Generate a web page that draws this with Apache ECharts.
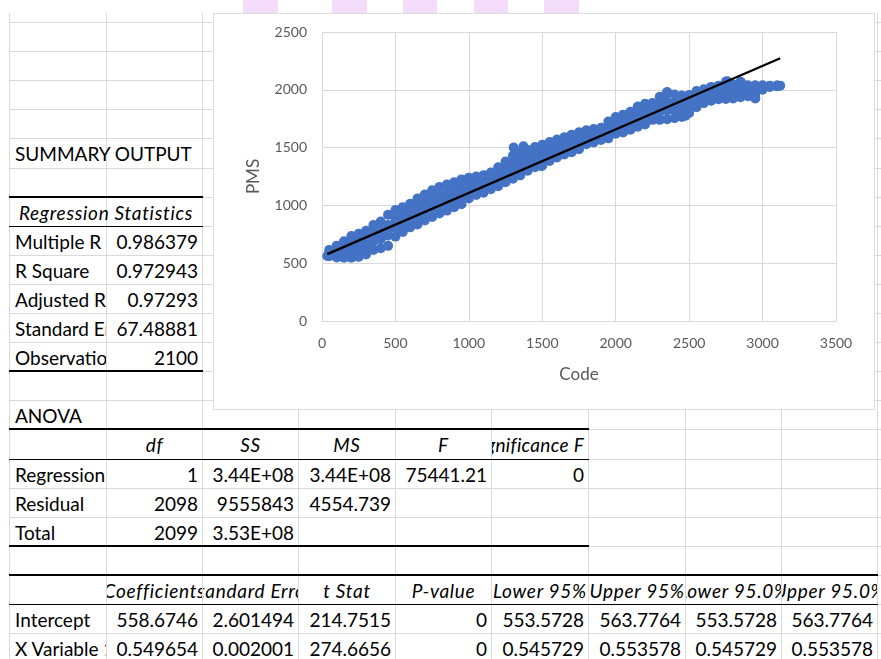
<!DOCTYPE html>
<html><head><meta charset="utf-8">
<script src="https://cdn.jsdelivr.net/npm/echarts/dist/echarts.min.js"></script>
<style>
html,body{margin:0;padding:0;}
body{width:881px;height:659px;overflow:hidden;background:#fff;position:relative;font-family:Lato,'Liberation Sans',sans-serif;}
.gl{position:absolute;background:#dadada;}
.bd{position:absolute;background:#000;}
.cell{position:absolute;overflow:hidden;white-space:nowrap;font-size:19px;color:#000;display:flex;align-items:center;box-sizing:border-box;}
.l{justify-content:flex-start;padding-left:5px;}
.r{justify-content:flex-end;padding-right:4px;}
.c{justify-content:center;}
.i{font-style:italic;letter-spacing:0.7px;}
.tight{letter-spacing:0.3px;}
.vis{overflow:visible;}
.pink{position:absolute;top:0;height:13px;background:#f4dcfb;}
#chart{position:absolute;left:213px;top:13px;width:662px;height:397px;background:#fff;border:1px solid #dedede;box-sizing:border-box;}
</style></head>
<body>
<div id="sheet"></div>
<div id="chart"></div>
<script>
// ---------------- spreadsheet content ----------------
const regLabels = ['Multiple R','R Square','Adjusted R Square','Standard Error','Observations'];
const regValues = ['0.986379','0.972943','0.97293','67.48881','2100'];
const anovaHeaders = ['df','SS','MS','F','Significance F'];
const anovaRowLabels = ['Regression','Residual','Total'];
const anovaDf = ['1','2098','2099'];
const anovaSS = ['3.44E+08','9555843','3.53E+08'];
const anovaMS = ['3.44E+08','4554.739',''];
const anovaF = ['75441.21','',''];
const anovaSigF = ['0','',''];
const coefHeaders = ['Coefficients','Standard Error','t Stat','P-value','Lower 95%','Upper 95%','Lower 95.0%','Upper 95.0%'];
const coefNames = ['Intercept','X Variable 1'];
const coefIntercept = ['558.6746','2.601494','214.7515','0','553.5728','563.7764','553.5728','563.7764'];
const coefSlope = ['0.549654','0.002001','274.6656','0','0.545729','0.553578','0.545729','0.553578'];

// ---------------- chart data (Code vs PMS) ----------------
const codes = [50,100,150,200,250,300,350,400,450,500,550,600,650,700,750,800,850,900,950,1000,
  1050,1100,1150,1200,1250,1300,1350,1400,1450,1500,1550,1600,1650,1700,1750,1800,1850,1900,1950,2000,
  2050,2100,2150,2200,2250,2300,2350,2400,2450,2500,2550,2600,2650,2700,2750,2800,2850,2900,2950,3000,3050,3100];
const pmsTop = [615,650,690,735,755,780,830,860,920,960,985,1015,1060,1095,1130,1160,1180,1200,1225,1240,
  1250,1260,1285,1330,1380,1430,1460,1480,1505,1525,1548,1570,1590,1612,1632,1650,1660,1672,1725,1765,
  1785,1810,1855,1880,1885,1940,1975,1960,1950,1955,1990,2005,2025,2035,2070,2045,2068,2040,2040,2040,2035,2038];
const pmsUpperMid = [595,617,643,672,688,715,758,783,830,883,913,947,985,1020,1053,1083,1105,1128,1153,1180,
  1197,1210,1237,1278,1320,1365,1395,1418,1445,1465,1493,1518,1540,1561,1583,1610,1622,1637,1677,1717,
  1733,1758,1797,1820,1837,1873,1898,1892,1888,1903,1943,1965,1985,1995,2020,2005,2024,2008,2003,2027,2032,2035];
const pmsCenter = [587,600,619,641,655,680,722,745,785,845,877,912,948,983,1015,1045,1068,1092,1118,1150,
  1170,1185,1212,1250,1290,1335,1365,1390,1415,1435,1466,1492,1515,1536,1558,1590,1603,1619,1652,1692,
  1708,1732,1768,1790,1812,1840,1860,1857,1857,1877,1920,1945,1965,1976,1995,1985,2002,1992,1985,2020,2030,2034];
const pmsLowerMid = [578,583,595,610,622,645,687,707,740,807,842,878,910,945,977,1007,1030,1057,1082,1120,
  1143,1160,1188,1223,1262,1300,1335,1362,1388,1405,1440,1467,1490,1511,1534,1570,1585,1601,1628,1668,
  1682,1707,1738,1760,1788,1807,1822,1823,1827,1852,1897,1925,1945,1957,1970,1965,1980,1977,1967,2013,2028,2033];
const pmsBottom = [560,550,548,548,555,575,615,630,650,730,770,810,835,870,900,930,955,985,1010,1060,
  1090,1110,1140,1165,1200,1230,1260,1300,1330,1345,1385,1415,1440,1460,1485,1530,1545,1565,1580,1620,
  1630,1655,1680,1700,1740,1740,1745,1755,1765,1800,1850,1885,1905,1918,1920,1925,1935,1945,1930,2000,2025,2030];
const extraCodes = [36,1305,1372,1495,2350,2475,2758,2852,2950,3120];
const extraPms = [563,1500,1512,1340,1980,1775,2075,2068,1925,2036];

// regression line from the table's coefficients
const interceptVal = 558.6746, slopeVal = 0.549654;

// tick labels
const xTicks = ['0','500','1000','1500','2000','2500','3000','3500'];
const yTicks = ['0','500','1000','1500','2000','2500'];

// ---------------- build sheet ----------------
const sheet = document.getElementById('sheet');
const colX = [9,106,202,298,395,491,588,685,781,877];
const rowY = k => Math.round(22 + 29.1*k);
function add(cls, style, text){
  const d = document.createElement('div');
  d.className = cls;
  Object.assign(d.style, style);
  if (text !== undefined) { const s=document.createElement('span'); s.textContent=text; d.appendChild(s); }
  sheet.appendChild(d);
  return d;
}
// pink marks at top
[[243,278],[332,367],[403,437],[474,508],[544,579]].forEach(p=>add('pink',{left:p[0]+'px',width:(p[1]-p[0])+'px'}));
// gridlines
for (let k=0;k<=22;k++) add('gl',{left:'9px',top:rowY(k)+'px',width:'872px',height:'1px'});
colX.forEach(x=>add('gl',{left:x+'px',top:'13px',width:'1px',height:'646px'}));

function cell(col,row,text,cls,spanTo){
  const x0 = colX[col], x1 = colX[spanTo!==undefined?spanTo:col+1];
  const y0 = rowY(row), y1 = rowY(row+1);
  add('cell '+cls,{left:(x0+1)+'px',top:(y0+1)+'px',width:(x1-x0-1)+'px',height:(y1-y0-1)+'px'},text);
}
cell(0,4,'SUMMARY OUTPUT','l vis',1);
cell(0,6,'Regression Statistics','c i',2);
regLabels.forEach((t,i)=>{cell(0,7+i,t,'l'); cell(1,7+i,regValues[i],'r');});
cell(0,13,'ANOVA','l vis');
anovaHeaders.forEach((t,i)=>cell(1+i,14,t,i===4?'r i tight':'c i'));
anovaRowLabels.forEach((t,i)=>{
  cell(0,15+i,t,'l');
  [anovaDf[i],anovaSS[i],anovaMS[i],anovaF[i],anovaSigF[i]].forEach((v,j)=>{ if(v) cell(1+j,15+i,v,'r'); });
});
coefHeaders.forEach((t,i)=>cell(1+i,19,t,'c i'));
coefNames.forEach((t,i)=>{
  cell(0,20+i,t,'l');
  (i===0?coefIntercept:coefSlope).forEach((v,j)=>cell(1+j,20+i,v,'r'));
});
// borders
function hb(x0,x1,y,h){add('bd',{left:x0+'px',width:(x1-x0)+'px',top:(y-Math.floor(h/2))+'px',height:h+'px'});}
hb(9,203,rowY(6),2); hb(9,203,rowY(7),1); hb(9,203,rowY(12),2);
hb(9,589,rowY(14),2); hb(9,589,rowY(15),1); hb(9,589,rowY(18),2);
hb(9,878,rowY(19),2); hb(9,878,rowY(20),1);

// ---------------- chart ----------------
const pts = [];
[pmsBottom,pmsLowerMid,pmsCenter,pmsUpperMid,pmsTop].forEach(arr=>codes.forEach((c,i)=>pts.push([c,arr[i]])));
extraCodes.forEach((c,i)=>pts.push([c,extraPms[i]]));
const allX = codes.concat(extraCodes);
const xMin = Math.min.apply(null,allX), xMax = Math.max.apply(null,allX);
const trend = [[xMin, interceptVal+slopeVal*xMin],[xMax, interceptVal+slopeVal*xMax]];

const chart = echarts.init(document.getElementById('chart'));
const lblFont = {color:'#595959',fontSize:14,fontFamily:'Lato'};
chart.setOption({
  animation:false,
  grid:{left:108,top:18,width:514,height:289},
  xAxis:{type:'value',min:0,max:3500,interval:500,
    axisLine:{show:true,lineStyle:{color:'#d9d9d9'}},axisTick:{show:false},
    splitLine:{show:true,lineStyle:{color:'#d9d9d9'}},
    axisLabel:Object.assign({margin:15,formatter:(v)=>xTicks[Math.round(v/500)]},lblFont),
    name:'Code',nameLocation:'middle',nameGap:45,
    nameTextStyle:{color:'#595959',fontSize:17,fontFamily:'Lato'}},
  yAxis:{type:'value',min:0,max:2500,interval:500,
    axisLine:{show:false},axisTick:{show:false},
    splitLine:{show:true,lineStyle:{color:'#d9d9d9'}},
    axisLabel:Object.assign({margin:15,formatter:(v)=>yTicks[Math.round(v/500)]},lblFont),
    name:'PMS',nameLocation:'middle',nameGap:60,
    nameTextStyle:{color:'#595959',fontSize:17,fontFamily:'Lato'}},
  series:[
    {type:'scatter',data:pts,symbol:'circle',symbolSize:10,itemStyle:{color:'#4472C4',opacity:1},silent:true},
    {type:'line',data:trend,symbol:'none',lineStyle:{color:'#000',width:2.25},silent:true,z:5}
  ]
});
</script>
</body></html>
